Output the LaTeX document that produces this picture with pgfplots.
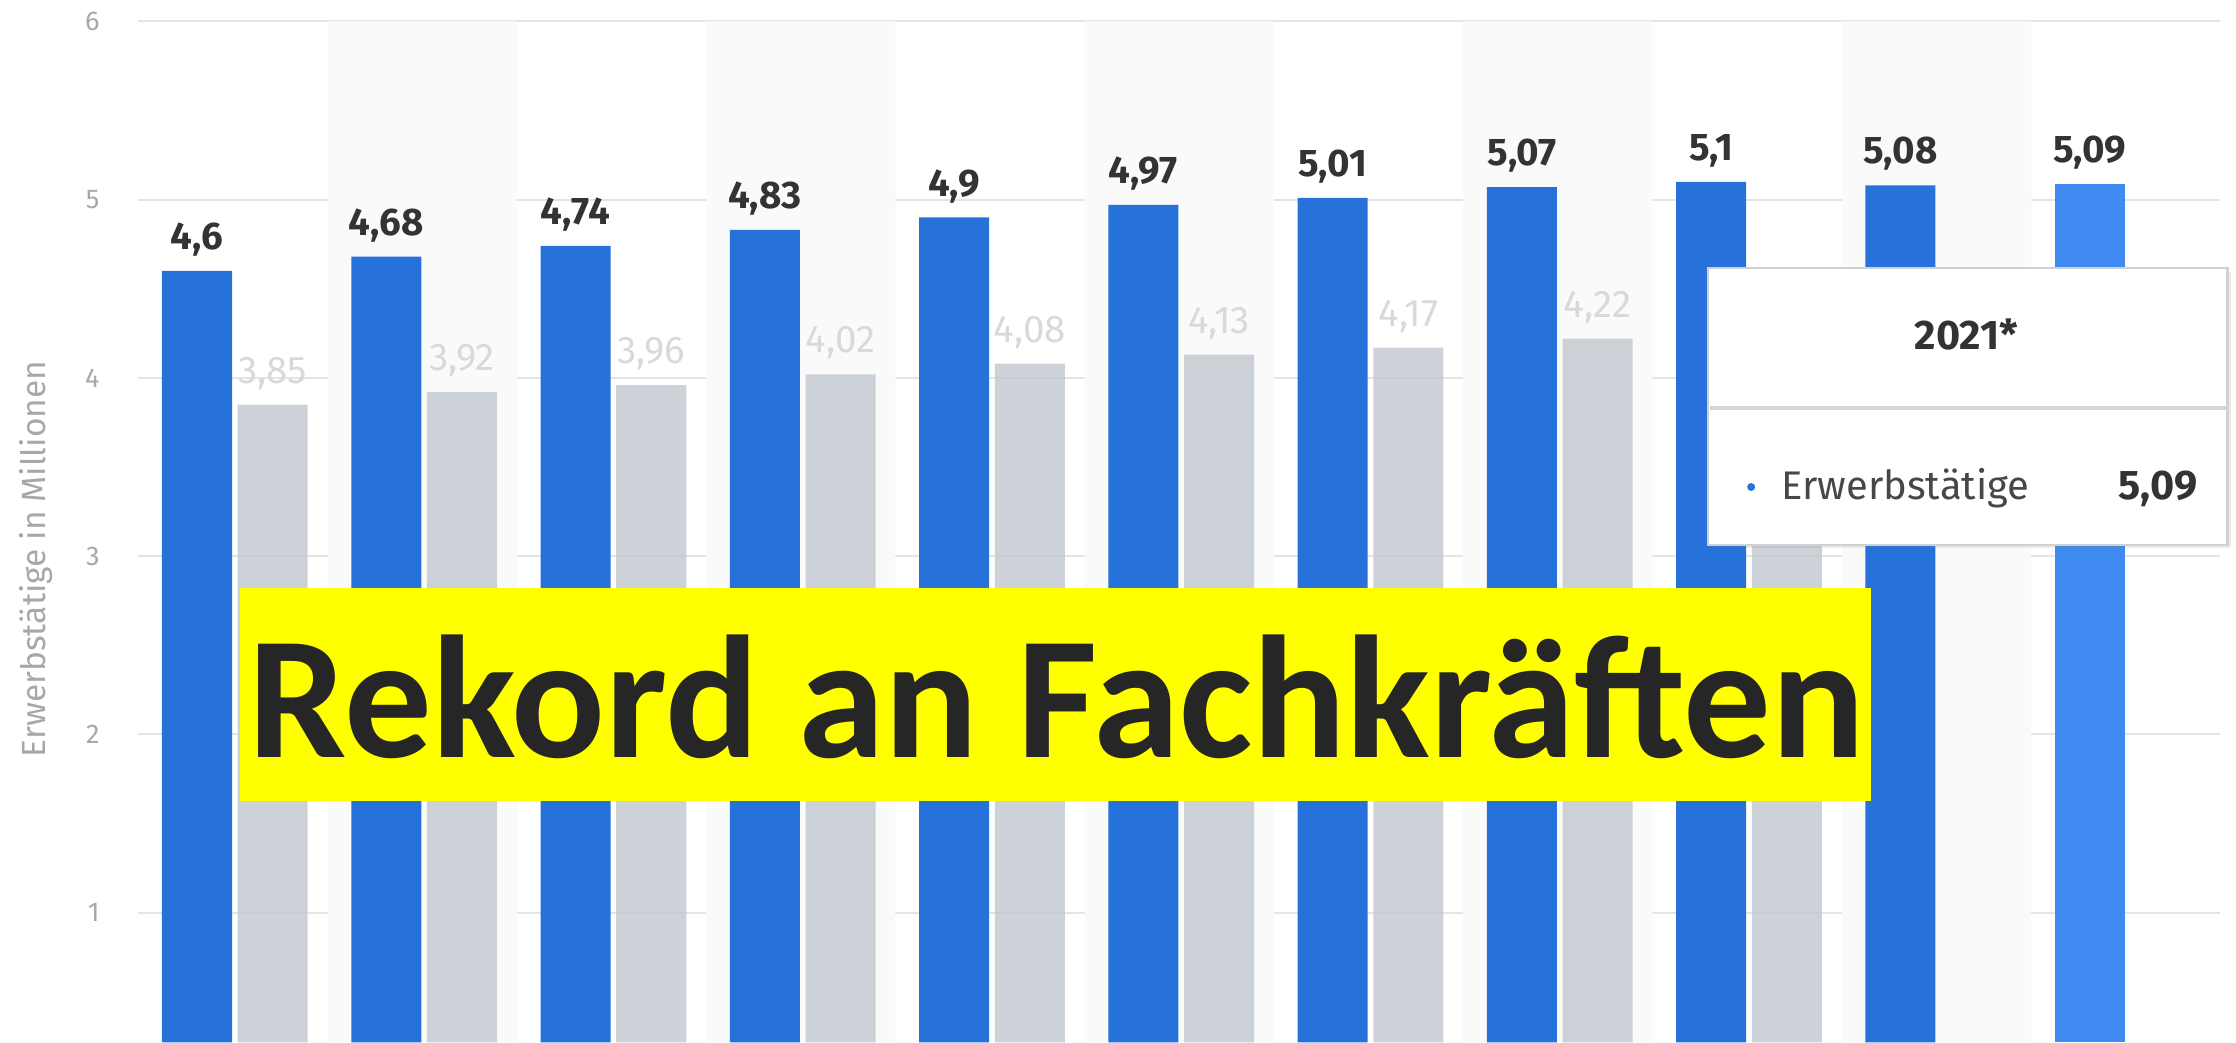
\documentclass[border=0pt]{standalone}
\usepackage{fontspec}
\setmainfont{Fira Sans}
\newfontfamily\titlefont{Carlito}
\usepackage{pgfplots}
\pgfplotsset{compat=1.18}
\usetikzlibrary{shadows}
\definecolor{barblue}{HTML}{2672DA}
\definecolor{barblueL}{HTML}{3F8BF1}
\definecolor{bargray}{HTML}{C4C9D1}
\definecolor{lblgray}{HTML}{D9D9D9}
\definecolor{lbldark}{HTML}{333333}
\definecolor{tickgray}{HTML}{A8A8A8}
\definecolor{gridgray}{HTML}{E4E4E4}
\definecolor{bandgray}{HTML}{FAFAFA}
\definecolor{titleyellow}{HTML}{FFFF00}
\definecolor{titletext}{HTML}{262626}
\begin{document}
\begin{tikzpicture}[x=1pt,y=1pt]
\path[use as bounding box] (0,0) rectangle (1568,731);
\begin{axis}[
  at={(97pt,0pt)}, anchor=south west,
  scale only axis, width=1460pt, height=731pt,
  xmin=-0.5, xmax=10.5, ymin=0.272, ymax=6.12,
  axis line style={draw=none},
  major tick length=0pt,
  xtick=\empty,
  ytick={1,2,3,4,5,6},
  yticklabels={1,2,3,4,5,6},
  yticklabel style={font=\fontsize{19}{19}\selectfont, text=tickgray, anchor=east, inner sep=0pt, xshift=-27pt},
  ymajorgrids,
  grid style={gridgray, line width=1.5pt},
  clip=true,
]
% alternating background bands
\addplot[ybar, bar width=1, bar shift=0, fill=bandgray, draw=none, forget plot]
  coordinates {(1,6) (3,6) (5,6) (7,6) (9,6)};
% Erwerbstaetige (blue)
\addplot[ybar, bar width=0.37, bar shift=0, fill=barblue, draw=none,
  point meta=explicit symbolic, nodes near coords,
  nodes near coords style={anchor=base, inner sep=0pt, yshift=15pt,
    font=\bfseries\fontsize{27}{27}\selectfont, text=lbldark}]
  table[x expr=\thisrow{x}-0.19, y=y, meta=lab] {
x y lab
0 4.60 {4,6}
1 4.68 {4,68}
2 4.74 {4,74}
3 4.83 {4,83}
4 4.90 {4,9}
5 4.97 {4,97}
6 5.01 {5,01}
7 5.07 {5,07}
8 5.10 {5,1}
9 5.08 {5,08}
};
\addplot[ybar, bar width=0.37, bar shift=0, fill=barblueL, draw=none,
  point meta=explicit symbolic, nodes near coords,
  nodes near coords style={anchor=base, inner sep=0pt, yshift=15pt,
    font=\bfseries\fontsize{27}{27}\selectfont, text=lbldark}]
  table[x expr=\thisrow{x}-0.19, y=y, meta=lab] {
x y lab
10 5.09 {5,09}
};
% second series (grey)
\addplot[ybar, bar width=0.37, bar shift=0, fill=bargray, fill opacity=0.85, draw=none,
  point meta=explicit symbolic, nodes near coords,
  nodes near coords style={anchor=base, inner sep=0pt, yshift=15pt, text opacity=1,
    font=\fontsize{27}{27}\selectfont, text=lblgray}]
  table[x expr=\thisrow{x}+0.21, y=y, meta=lab] {
x y lab
0 3.85 {3,85}
1 3.92 {3,92}
2 3.96 {3,96}
3 4.02 {4,02}
4 4.08 {4,08}
5 4.13 {4,13}
6 4.17 {4,17}
7 4.22 {4,22}
8 4.26 {4,26}
};
\end{axis}
% y axis title
\node[rotate=90, text=tickgray, font=\fontsize{23.5}{23.5}\selectfont, inner sep=0pt] at (25,339) {Erwerbstätige in Millionen};
% tooltip
\draw[draw=black!18, line width=1.5pt, fill=white,
  drop shadow={opacity=0.15, shadow xshift=2.5pt, shadow yshift=-2.5pt}]
  (1198,349) rectangle (1562,543);
\draw[black!16, line width=2.5pt] (1199,445) -- (1561,445);
\node[anchor=base, inner sep=0pt, text=lbldark, font=\bfseries\fontsize{29}{29}\selectfont] at (1379,486) {2021*};
\fill[barblue] (1228,389.5) circle (2.8);
\node[anchor=base west, inner sep=0pt, text=black!72, font=\fontsize{28}{28}\selectfont] at (1249,381) {Erwerbstätige};
\node[anchor=base east, inner sep=0pt, text=lbldark, font=\bfseries\fontsize{29}{29}\selectfont] at (1541,381) {5,09};
% title banner
\fill[titleyellow] (168,169) rectangle (1312,319);
\node[anchor=base west, inner sep=0pt, text=titletext] at (174,200)
  {\resizebox{1132pt}{!}{\titlefont\bfseries Rekord an Fachkräften}};
\end{tikzpicture}
\end{document}
